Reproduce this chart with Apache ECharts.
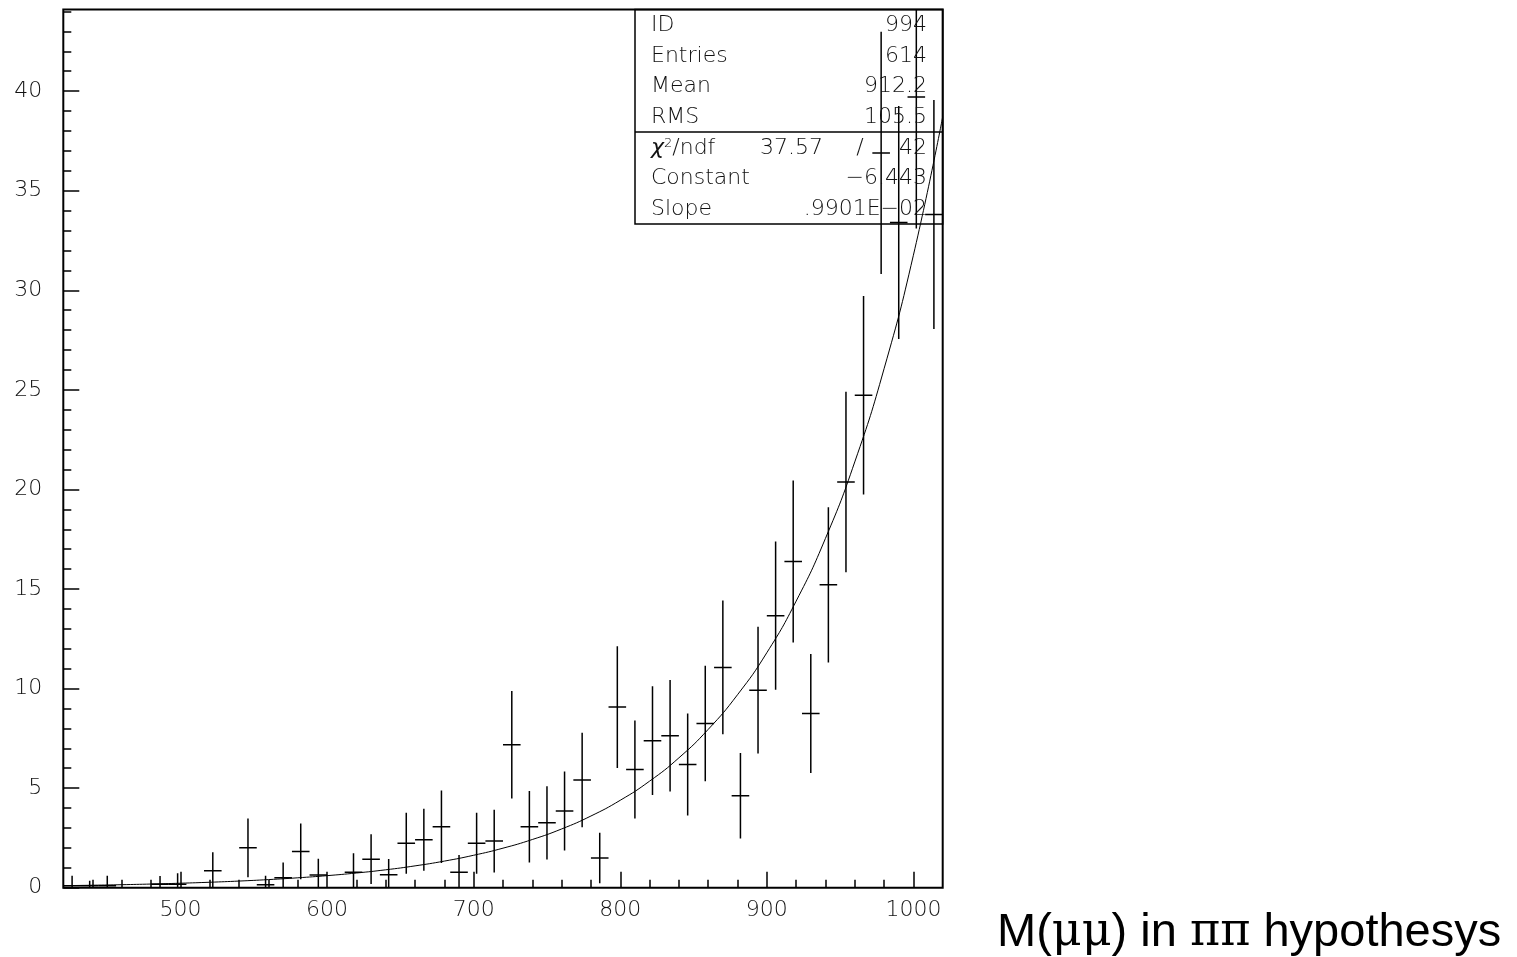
<!DOCTYPE html>
<html>
<head>
<meta charset="utf-8">
<script src="https://cdn.jsdelivr.net/npm/echarts@6/dist/echarts.min.js"></script>
<style>
html,body{margin:0;padding:0;background:#fff;}
#chart{width:1517px;height:957px;}
</style>
</head>
<body>
<div id="chart"></div>
<script>
// ---- data ----
const binCenters = [426,438,450,462,474,486,498,510,522,534,546,558,570,582,594,606,618,630,642,654,666,678,690,702,714,726,738,750,762,774,786,798,810,822,834,846,858,870,882,894,906,918,930,942,954,966,978,990,1002,1014];
const binValues  = [0.1,0.1,0.1,null,null,0.17,0.17,null,0.85,null,2.0,0.15,0.5,1.82,0.64,null,0.77,1.43,0.65,2.23,2.41,3.06,0.77,2.23,2.34,7.18,3.06,3.26,3.85,5.41,1.49,9.07,5.94,7.38,7.63,6.19,8.25,11.06,4.62,9.92,13.66,16.38,8.75,15.21,20.37,24.73,36.9,33.4,39.7,33.8];
const binErrors  = [0.5,0.25,0.5,null,null,0.42,0.55,null,0.93,null,1.47,0.45,0.76,1.4,0.82,null,0.96,1.25,0.79,1.53,1.56,1.82,0.87,1.53,1.58,2.7,1.8,1.84,1.98,2.37,1.27,3.06,2.46,2.73,2.8,2.56,2.9,3.36,2.15,3.18,3.72,4.07,2.99,3.9,4.53,4.98,6.08,5.85,6.6,5.75];
const fitX = [420,440,460,480,500,520,540,560,580,600,620,640,660,680,700,720,740,760,780,800,820,840,860,880,900,920,940,960,980,1000,1020];
const fitY = [0.102,0.124,0.151,0.184,0.225,0.274,0.334,0.407,0.497,0.605,0.738,0.899,1.096,1.336,1.629,1.985,2.42,2.95,3.60,4.39,5.35,6.52,7.95,9.69,11.80,14.39,17.54,21.38,26.06,31.76,38.71];
const xMajorTicks = [500,600,700,800,900,1000];
const xMinorTicks = [440,460,480,520,540,560,580,620,640,660,680,720,740,760,780,820,840,860,880,920,940,960,980,1000];
const yMajorTicks = [0,5,10,15,20,25,30,35,40];
const yMinorTicks = [1,2,3,4,6,7,8,9,11,12,13,14,16,17,18,19,21,22,23,24,26,27,28,29,31,32,33,34,36,37,38,39,41,42,43,44];
const statsLabels = ['ID','Entries','Mean','RMS'];
const statsValues = ['994','614','912.2','105.5'];
const fitLabels = ['Constant','Slope'];
const fitValues = ['\u22126.443','.9901E\u221202'];
const chi2Value = '37.57';
const ndfValue = '42';

// ---- chart ----
const FONT = '"DejaVu Sans", sans-serif';
const chart = echarts.init(document.getElementById('chart'), null, {renderer:'canvas'});
const points = binCenters.map((c,i)=>[c, binValues[i], binErrors[i]]).filter(p=>p[1]!==null);
const halfBin = (binCenters[1]-binCenters[0])/2;

const axisText = {color:'#111', fontSize:22, fontFamily:FONT, fontWeight:200, formatter:(v)=>String(v)};
const gridL=63.3, gridT=9.5, gridW=879.4, gridH=878.2;

const statsGraphics = [];
const boxL=635, boxR=942.7, boxTop=gridT, boxDiv=132, boxBot=224;
statsGraphics.push({type:'rect', shape:{x:boxL,y:boxTop,width:boxR-boxL,height:boxBot-boxTop}, style:{fill:'none',stroke:'#000',lineWidth:1.5}, z:10});
statsGraphics.push({type:'line', shape:{x1:boxL,y1:boxDiv,x2:boxR,y2:boxDiv}, style:{stroke:'#000',lineWidth:1.5}, z:10});
const rowY = [25,56,86,117,148,178,209];
const txtStyle = (t,x,y,align)=>({type:'text', x:x, y:y, z:11, style:{text:t, font:'200 22px '+FONT, fill:'#111', textAlign:align, textVerticalAlign:'middle'}});
statsLabels.forEach((l,i)=>{ statsGraphics.push(txtStyle(l,651,rowY[i],'left')); statsGraphics.push(txtStyle(statsValues[i],927,rowY[i],'right')); });
fitLabels.forEach((l,i)=>{ statsGraphics.push(txtStyle(l,651,rowY[5+i],'left')); statsGraphics.push(txtStyle(fitValues[i],927,rowY[5+i],'right')); });
statsGraphics.push({type:'text', x:651, y:rowY[4], z:11, style:{text:'{c|\u03c7}{s|2}{n|/ndf}', textVerticalAlign:'middle', fill:'#111',
  rich:{c:{font:'italic 200 22px '+FONT, fill:'#111'}, s:{font:'200 13px '+FONT, fill:'#111', verticalAlign:'top', padding:[0,0,8,0]}, n:{font:'200 22px '+FONT, fill:'#111'}}}});
statsGraphics.push(txtStyle(chi2Value,823,rowY[4],'right'));
statsGraphics.push(txtStyle('/',860,rowY[4],'center'));
statsGraphics.push(txtStyle(ndfValue,927,rowY[4],'right'));
statsGraphics.push({type:'text', x:997, y:933, z:11, style:{text:'{a|M(}{g|\u03bc\u03bc}{a|) in }{g|\u03c0\u03c0}{a| hypothesys}', textVerticalAlign:'middle',
  rich:{a:{font:'47px "Liberation Sans", Arial, sans-serif', fill:'#000'}, g:{font:'46px "DejaVu Serif", serif', fill:'#000'}}}});

chart.setOption({
  animation:false,
  backgroundColor:'#fff',
  grid:{left:gridL, top:gridT, width:gridW, height:gridH, show:true, borderColor:'#000', borderWidth:2, containLabel:false},
  xAxis:[
    {type:'value', min:420, max:1020, position:'bottom',
     axisLine:{show:false}, splitLine:{show:false},
     axisTick:{show:true, inside:true, length:16, customValues:xMajorTicks, lineStyle:{color:'#000', width:1.5}},
     axisLabel:{show:true, customValues:xMajorTicks, margin:12, ...axisText}},
    {type:'value', min:420, max:1020, position:'bottom', gridIndex:0,
     axisLine:{show:false}, splitLine:{show:false}, axisLabel:{show:false},
     axisTick:{show:true, inside:true, length:8, customValues:xMinorTicks, lineStyle:{color:'#000', width:1.5}}}
  ],
  yAxis:[
    {type:'value', min:0, max:44.1, position:'left',
     axisLine:{show:false}, splitLine:{show:false},
     axisTick:{show:true, inside:true, length:16, customValues:yMajorTicks, lineStyle:{color:'#000', width:1.5}},
     axisLabel:{show:true, customValues:yMajorTicks, margin:21, ...axisText}},
    {type:'value', min:0, max:44.1, position:'left',
     axisLine:{show:false}, splitLine:{show:false}, axisLabel:{show:false},
     axisTick:{show:true, inside:true, length:8, customValues:yMinorTicks, lineStyle:{color:'#000', width:1.5}}}
  ],
  series:[
    {type:'line', xAxisIndex:0, yAxisIndex:0, data:fitX.map((x,i)=>[x,fitY[i]]), smooth:true, showSymbol:false, symbol:'none',
     lineStyle:{color:'#000', width:1}, clip:true, silent:true},
    {type:'custom', xAxisIndex:0, yAxisIndex:0, data:points, clip:true, silent:true,
     renderItem:function(params, api){
       const x=api.value(0), y=api.value(1), e=api.value(2);
       const c=api.coord([x,y]);
       const lo=api.coord([x,y-e]), hi=api.coord([x,y+e]);
       const l=api.coord([x-halfBin,y]), r=api.coord([x+halfBin,y]);
       const st={stroke:'#000', lineWidth:1.5};
       return {type:'group', children:[
         {type:'line', shape:{x1:c[0],y1:lo[1],x2:c[0],y2:hi[1]}, style:st},
         {type:'line', shape:{x1:l[0],y1:c[1],x2:r[0],y2:c[1]}, style:st}
       ]};
     }}
  ],
  graphic:statsGraphics
});
</script>
</body>
</html>
